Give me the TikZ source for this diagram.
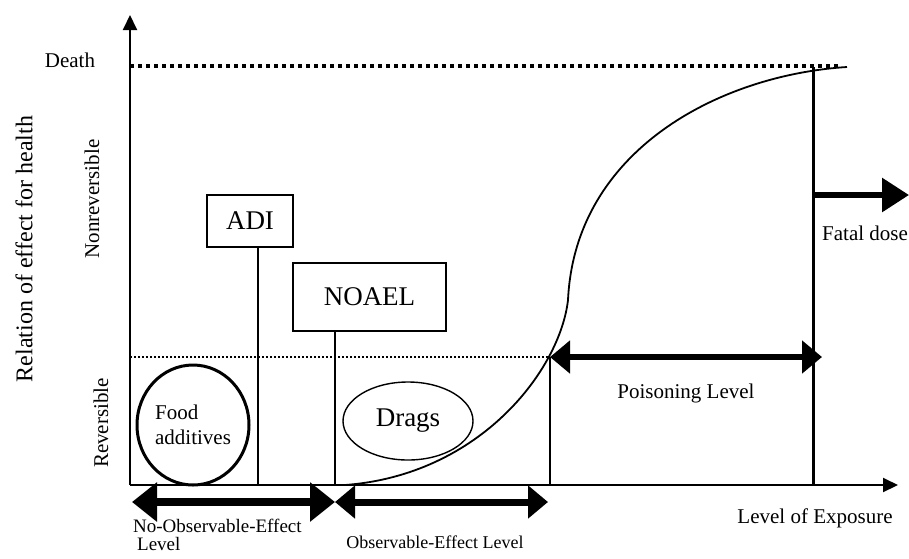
\documentclass[tikz,border=0pt]{standalone}
\usepackage{fontspec}
\setmainfont{Liberation Serif}
\usetikzlibrary{positioning, arrows.meta, shapes.geometric}

\begin{document}
\begin{tikzpicture}[
    x=1pt, y=-1pt,
    >={Triangle[length=15pt, width=14pt]},
    axis/.style={
        ->,
        line width=2pt
    },
    guide/.style={
        line width=1.3pt
    },
    wide arrow/.style={
        {Triangle[length=25pt, width=38pt]}-{Triangle[length=25pt, width=38pt]},
        line width=8pt
    },
    range arrow/.style={
        {Triangle[length=20pt, width=32pt]}-{Triangle[length=20pt, width=32pt]},
        line width=6.5pt
    },
    fatal arrow/.style={
        -{Triangle[length=27pt, width=33pt]},
        line width=6pt
    },
    levelbox/.style={
        rectangle,
        draw,
        line width=1.2pt,
        inner sep=0pt,
        font=\fontsize{27}{30}\selectfont
    },
    agent/.style={
        ellipse,
        draw,
        inner sep=0pt,
        align=left
    },
    txt/.style={
        inner sep=0pt,
        font=\fontsize{21}{25}\selectfont
    },
    death line/.style={
        line width=3.5pt,
        dash pattern=on 4pt off 4pt
    },
    rev line/.style={
        line width=1.8pt,
        dash pattern=on 2pt off 2pt
    }
]
    \useasboundingbox (0,0) rectangle (909,558);

    % Axes
    \coordinate (O) at (130,485);
    \coordinate (ytip) at (130,15);
    \coordinate (xtip) at (898,485);
    \draw[axis] (O) -- (ytip);
    \draw[axis] (O) -- (xtip);

    % Effect levels
    \coordinate (deathL) at (130,66);
    \coordinate (deathR) at (840,66);
    \coordinate (revL) at (130,357);
    \coordinate (poisL) at (550,357);
    \coordinate (poisR) at (822,357);
    \draw[death line] (deathL) -- (deathR);
    \draw[rev line] (revL) -- (poisL);

    \node[txt] (death) at (70,60) {Death};
    \node[txt, rotate=90, font=\fontsize{24}{28}\selectfont] (relation) at (24,249) {Relation of effect for health};
    \node[txt, rotate=90] (nonrev) at (92,199) {Nonreversible};
    \node[txt, rotate=90] (rev) at (101,423) {Reversible};

    % Dose-response curve
    \coordinate (start) at (345,485);
    \coordinate (bend) at (568,300);
    \coordinate (top) at (847,67);
    \draw[line width=1.8pt] (start) .. controls (480,475) and (560,370) .. (bend)
        .. controls (575,150) and (720,75) .. (top);

    % ADI and NOAEL
    \node[levelbox, minimum width=86pt, minimum height=52pt] (adi) at (250,221) {ADI};
    \coordinate (adifoot) at (258,485);
    \draw[guide] (adifoot |- adi.south) -- (adifoot);

    \node[levelbox, minimum width=153pt, minimum height=68pt] (noael) at (369.5,297) {NOAEL};
    \coordinate (noaelfoot) at (335,485);
    \draw[guide] (noaelfoot |- noael.south) -- (noaelfoot);

    % Substances
    \node[agent, line width=3pt, minimum width=112pt, minimum height=120pt,
        font=\fontsize{21}{25}\selectfont] (food) at (193,425) {Food\\additives};
    \node[agent, line width=1.4pt, minimum width=130pt, minimum height=78pt,
        font=\fontsize{27}{30}\selectfont] (drags) at (408,421) {Drags};

    % Poisoning and fatal dose
    \draw[guide] (poisL) -- (poisL |- O);
    \coordinate (fatalL) at (813,195);
    \coordinate (fatalR) at (909,195);
    \draw[line width=3pt] (fatalL |- top) -- (fatalL |- O);
    \draw[range arrow] (poisL) -- (poisR) node[txt, midway, below=24pt] (poison) {Poisoning Level};
    \draw[fatal arrow] (fatalL) -- (fatalR);
    \node[txt, anchor=west] (fatal) at (822,233) {Fatal dose};

    % Exposure ranges
    \coordinate (noelL) at (132,502);
    \coordinate (noelR) at (335,502);
    \coordinate (oelR) at (548,502);
    \draw[wide arrow] (noelL) -- (noelR);
    \draw[range arrow, line width=7pt] (noelR) -- (oelR);

    \node[txt, font=\fontsize{19}{18}\selectfont, align=left, anchor=north west] (noel) at (133,519) {No-Observable-Effect\\\hspace{4pt}Level};
    \node[txt, font=\fontsize{18}{20}\selectfont] (oel) at (435,542) {Observable-Effect Level};
    \node[txt] (exposure) at (815,518) {Level of Exposure};

\end{tikzpicture}
\end{document}
